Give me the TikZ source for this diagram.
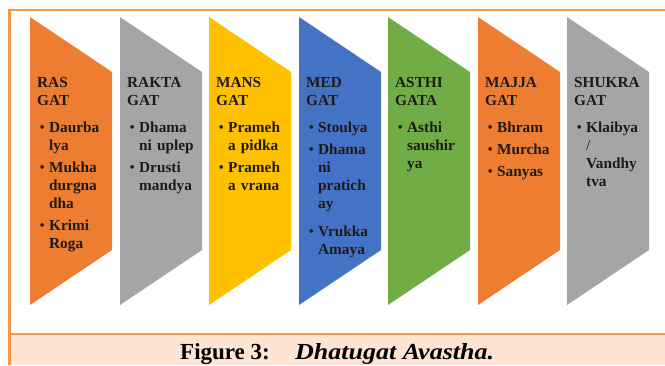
\documentclass[tikz,border=0pt]{standalone}
\usepackage{fontspec}
\setmainfont{Liberation Serif}
\definecolor{frameor}{HTML}{F79646}
\definecolor{capfill}{HTML}{FDE4D3}
\definecolor{cOrange}{HTML}{ED7D31}
\definecolor{cGray}{HTML}{A5A5A5}
\definecolor{cYellow}{HTML}{FFC000}
\definecolor{cBlue}{HTML}{4472C4}
\definecolor{cGreen}{HTML}{70AD47}
\definecolor{txt}{HTML}{1E1A18}
\newcommand\itm[2][4pt]{\par\prevdepth=\dp\strutbox\vspace{#1}\noindent\hspace*{2.5pt}\makebox[9.5pt][l]{\mdseries\textbullet}\parbox[t]{78pt}{\raggedright\strut #2\strut}}
\newcommand\ttl[2]{\noindent\strut #1\newline #2\strut\par\vspace{5pt}}
\tikzset{
  coltext/.style={anchor=north west, inner sep=0pt, text width=90pt, align=left,
    text=txt, font=\bfseries\fontsize{15.3}{18}\selectfont}
}
\newcommand\chevron[2]{\fill[#2] (#1,17) -- (#1+82,72) -- (#1+82,250) -- (#1,305) -- cycle;}
\begin{document}
\begin{tikzpicture}[x=1pt,y=-1pt]
\useasboundingbox (0,0) rectangle (665,365);
\fill[white] (0,0) rectangle (665,365);
% caption band
\fill[capfill] (9.5,334) rectangle (665,365);
\draw[frameor, line width=2.5pt] (665,10) -- (9.5,10) -- (9.5,365);
\draw[frameor, line width=2pt] (9.5,334) -- (665,334);
% chevrons
\chevron{30}{cOrange}
\chevron{120}{cGray}
\chevron{209}{cYellow}
\chevron{299}{cBlue}
\chevron{388}{cGreen}
\chevron{478}{cOrange}
\chevron{567}{cGray}
% texts
\node[coltext] (t1) at (37,74.4) {\ttl{RAS}{GAT}\itm{Daurba\newline lya}\itm{Mukha\newline durgna\newline dha}\itm{Krimi\newline Roga}};
\node[coltext] (t2) at (127,74.4) {\ttl{RAKTA}{GAT}\itm{Dhama\newline ni uplep}\itm{Drusti\newline mandya}};
\node[coltext] (t3) at (216,74.4) {\ttl{MANS}{GAT}\itm{Prameh\newline a pidka}\itm{Prameh\newline a vrana}};
\node[coltext] (t4) at (306,74.4) {\ttl{MED}{GAT}\itm{Stoulya}\itm{Dhama\newline ni\newline pratich\newline ay}\itm[10pt]{Vrukka\newline Amaya}};
\node[coltext] (t5) at (395,74.4) {\ttl{ASTHI}{GATA}\itm{Asthi\newline saushir\newline ya}};
\node[coltext] (t6) at (485,74.4) {\ttl{MAJJA}{GAT}\itm{Bhram}\itm{Murcha}\itm{Sanyas}};
\node[coltext] (t7) at (574,74.4) {\ttl{SHUKRA}{GAT}\itm{Klaibya\newline {\mdseries/}\newline Vandhy\newline tva}};
% caption
\node[anchor=base west, inner sep=0pt, font=\bfseries\fontsize{23}{26}\selectfont, text=black] (cap1) at (180,359.5) {Figure 3:};
\node[anchor=base west, inner sep=0pt, xscale=1.13, font=\bfseries\itshape\fontsize{23}{26}\selectfont, text=black] (cap2) at (295,359.5) {Dhatugat Avastha.};
\end{tikzpicture}
\end{document}
